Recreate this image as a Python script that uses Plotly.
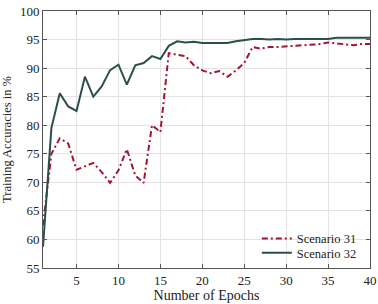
import plotly.graph_objects as go

epochs = list(range(1, 41))
scenario_31 = [62.5, 75.0, 77.7, 76.8, 72.2, 72.8, 73.4, 71.8, 69.9, 72.1,
               75.8, 71.2, 69.9, 80.0, 78.8, 92.6, 92.3, 92.1, 90.5, 89.6,
               89.1, 89.5, 88.5, 89.6, 90.9, 93.7, 93.4, 93.7, 93.7, 93.8,
               93.8, 94.0, 94.1, 94.2, 94.5, 94.3, 94.1, 94.0, 94.2, 94.2]
scenario_32 = [58.7, 79.5, 85.6, 83.3, 82.5, 88.5, 85.0, 86.8, 89.65, 90.6,
               87.1, 90.5, 90.9, 92.1, 91.6, 93.9, 94.7, 94.5, 94.6, 94.4,
               94.4, 94.4, 94.4, 94.7, 94.9, 95.1, 95.1, 95.0, 95.1, 95.0,
               95.1, 95.1, 95.1, 95.2, 95.1, 95.3, 95.3, 95.3, 95.3, 95.3]
x_ticks = [5, 10, 15, 20, 25, 30, 35, 40]
y_ticks = [55, 60, 65, 70, 75, 80, 85, 90, 95, 100]

font = "Liberation Serif"
fig = go.Figure()
fig.add_trace(go.Scatter(x=epochs, y=scenario_31, mode="lines", name="Scenario 31",
                         legend="legend",
                         line=dict(color="#A2142F", width=2, dash="6px,3px,2px,3px")))
fig.add_trace(go.Scatter(x=epochs, y=scenario_32, mode="lines", name="Scenario 32",
                         legend="legend2",
                         line=dict(color="#2D4F4C", width=2)))

axis_common = dict(showgrid=True, gridcolor="#e3e3e3", gridwidth=1, automargin=False,
                   showline=True, linecolor="#555555", linewidth=1, mirror="ticks",
                   ticks="inside", ticklen=4, tickcolor="#555555", zeroline=False,
                   tickfont=dict(family=font, size=13, color="#222222"))
fig.update_xaxes(range=[1, 40], tickvals=x_ticks, **axis_common,
                 title=dict(text="Number of Epochs", standoff=2,
                            font=dict(family=font, size=14, color="#222222")))
fig.update_yaxes(range=[55, 100], tickvals=y_ticks, **axis_common,
                 title=dict(text="Training Accuracies in %", standoff=6,
                            font=dict(family=font, size=12.5, color="#222222")))
leg_common = dict(xanchor="right", yanchor="middle", bgcolor="rgba(255,255,255,0)",
                  borderwidth=0, font=dict(family=font, size=12.5, color="#222222"),
                  itemwidth=30)
fig.update_layout(width=378, height=304, margin=dict(l=43, r=8, t=11, b=36),
                  plot_bgcolor="white", paper_bgcolor="white", showlegend=True,
                  legend=dict(x=0.975, y=0.113, **leg_common),
                  legend2=dict(x=0.975, y=0.058, **leg_common))
fig.write_html("out.html", config={"displayModeBar": False},
               post_script="document.body.style.margin='0';")
